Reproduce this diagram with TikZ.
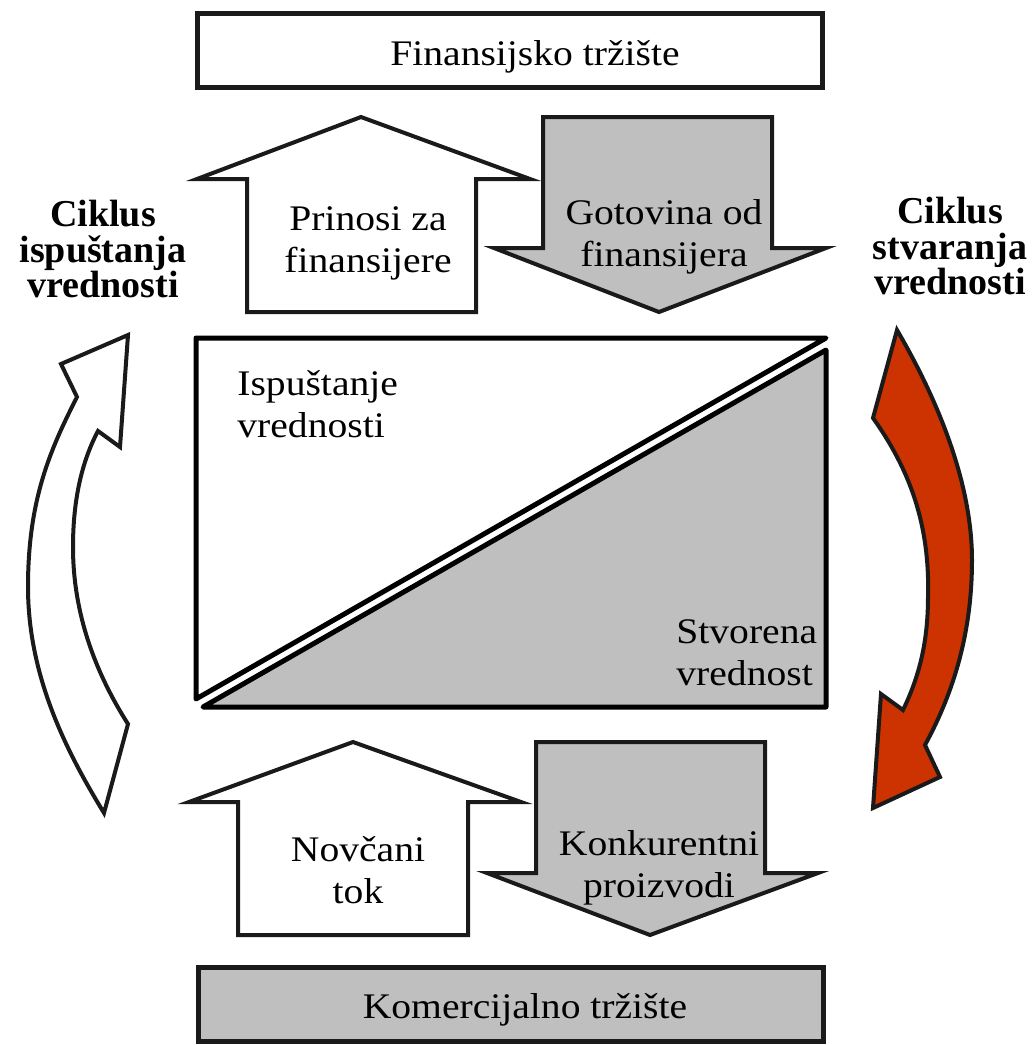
\documentclass[tikz,border=0pt]{standalone}
\usepackage{fontspec}
\setmainfont{Liberation Serif}
\newfontfamily\widefont{Liberation Serif}[FakeStretch=1.1]
\definecolor{flowgray}{HTML}{BFBFBF}
\definecolor{cyclered}{HTML}{CC3300}
\definecolor{edge}{HTML}{1A1A1A}
\tikzset{market/.style = {draw=edge, line width=2.5pt, minimum width=312.5pt, minimum height=37pt, inner sep=0pt},
           flow/.style = {draw=edge, line width=2pt, line join=miter},
           half/.style = {draw=black, line width=2.5pt, line join=round},
           txt/.style  = {align=center, inner sep=0pt, font=\widefont\fontsize{18}{21}\selectfont},
           cyc/.style  = {align=center, inner sep=0pt, font=\bfseries\fontsize{19}{17.6}\selectfont}}

\begin{document}
\begin{tikzpicture}[x=0.5pt, y=-0.5pt]
    \useasboundingbox (0,0) rectangle (1036,1045);
    % markets
    \node[market] (fin) at (509.5,50) {};
    \node[market, fill=flowgray] (kom) at (511,1004) {};
    \node[txt, anchor=base] (fintxt) at (535,65) {Finansijsko tržište};
    \node[txt, anchor=base] (komtxt) at (525,1018) {Komercijalno tržište};
    % flows with the financial market
    \draw[flow, fill=white] (247,312) -- (247,179) -- (197,179) -- (361,117) -- (530,179) -- (476,179) -- (476,312) -- cycle;
    \draw[flow, fill=flowgray] (543,117) -- (772,117) -- (772,248) -- (826,248) -- (659,312) -- (494,248) -- (543,248) -- cycle;
    \node[txt] (prin) at (368,243) {Prinosi za\\finansijere};
    \node[txt] (got) at (664,237) {Gotovina od\\finansijera};
    % firm
    \draw[half, fill=white] (196,338) -- (826,338) -- (196,699) -- cycle;
    \draw[half, fill=flowgray] (826,350) -- (826,707) -- (203,707) -- cycle;
    \node[txt, align=left, anchor=west] (isp) at (237,404) {Ispuštanje\\vrednosti};
    \node[txt, align=left, anchor=west] (stv) at (676,653) {Stvorena\\vrednost};
    % flows with the commercial market
    \draw[flow, fill=white] (238,935) -- (238,802) -- (189,802) -- (353,742) -- (521,802) -- (468,802) -- (468,935) -- cycle;
    \draw[flow, fill=flowgray] (536,742) -- (765,742) -- (765,873) -- (818,873) -- (650,935) -- (487,873) -- (536,873) -- cycle;
    \node[txt] (nov) at (358,870) {Novčani\\tok};
    \node[txt] (kon) at (659,868) {Konkurentni\\proizvodi};
    % cycles
    \draw[flow, fill=white] (104,813) .. controls (70,757) and (28,680) .. (28,587)
        .. controls (28,500) and (50,450) .. (77,397) -- (61,364) -- (128,335) -- (120,447) -- (98,431)
        .. controls (80,465) and (73,505) .. (73,547) .. controls (73,620) and (100,680) .. (128,724) -- cycle;
    \draw[flow, fill=cyclered] (897,330) .. controls (935,395) and (972,480) .. (972,560)
        .. controls (972,630) and (955,690) .. (925,745) -- (940,777) -- (873,808) -- (881,694) -- (903,710)
        .. controls (920,675) and (928,640) .. (928,597) .. controls (930,525) and (910,470) .. (873,418) -- cycle;
    \node[cyc] (relcyc) at (103,249) {Ciklus\\ispuštanja\\vrednosti};
    \node[cyc] (crecyc) at (950,246) {Ciklus\\stvaranja\\vrednosti};
\end{tikzpicture}
\end{document}
